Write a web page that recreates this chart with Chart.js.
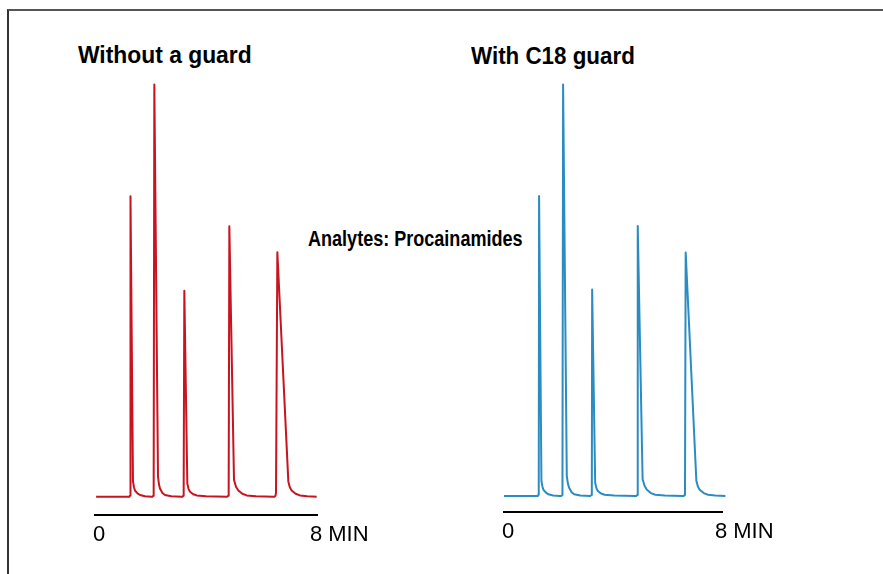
<!DOCTYPE html>
<html>
<head>
<meta charset="utf-8">
<script src="https://cdn.jsdelivr.net/npm/chart.js@4.4.1/dist/chart.umd.min.js"></script>
<style>
  html, body { margin: 0; padding: 0; background: #fff; }
  #page { position: relative; width: 883px; height: 574px; overflow: hidden; }
  #frame { position: absolute; left: 7px; top: 9px; right: 0; bottom: -4px;
           border-top: 2px solid #555; border-left: 2px solid #333; }
  canvas { position: absolute; }
  .txt { position: absolute; white-space: nowrap; font-family: "Liberation Sans", Arial, sans-serif;
         font-weight: bold; color: #000; transform-origin: left top; line-height: 1; }
</style>
</head>
<body>
<div id="page">
  <div id="frame"></div>
  <div class="txt" id="titleLeft"></div>
  <div class="txt" id="titleRight"></div>
  <div class="txt" id="note"></div>
  <canvas id="chartLeft" width="292" height="496" style="left:85px; top:54px;"></canvas>
  <canvas id="chartRight" width="288" height="493" style="left:494px; top:54px;"></canvas>
</div>
<script>
// texts
const leftTitle = 'Without a guard';
const rightTitle = 'With C18 guard';
const noteText = 'Analytes: Procainamides';

// x axis ticks (minutes)
const axisTickValues = [0, 8];
const axisTickLabels = ['0', '8 MIN'];

// without guard: time (min) and relative signal
const leftTimes = [0.04,
  1.237, 1.262, 1.273, 1.285, 1.369, 1.405, 1.441, 1.53, 1.622, 1.80, 2.042,
  2.078, 2.103, 2.114, 2.138, 2.270, 2.305, 2.342, 2.43, 2.523, 2.75, 3.123,
  3.159, 3.184, 3.195, 3.219, 3.327, 3.37, 3.423, 3.54, 3.664, 4.00, 4.745,
  4.769, 4.800, 4.817, 4.841, 5.009, 5.08, 5.165, 5.31, 5.465, 5.80, 6.426,
  6.474, 6.505, 6.523, 6.571, 6.967, 7.02, 7.087, 7.23, 7.387, 7.65, 7.988];
const leftSignal = [0,
  0, 0.3, 1.2, 72.9, 3.7, 2.3, 1.5, 0.8, 0.4, 0.1, 0,
  0, 0.25, 1.0, 100, 4.9, 3.0, 2.0, 0.9, 0.4, 0.1, 0,
  0, 0.25, 1.0, 50.0, 3.2, 1.9, 1.2, 0.6, 0.3, 0.1, 0,
  0, 0.25, 1.0, 65.6, 4.1, 2.4, 1.5, 0.7, 0.3, 0.1, 0,
  0, 0.25, 1.0, 59.3, 3.7, 2.3, 1.5, 0.7, 0.3, 0.1, 0];

// with C18 guard
const rightTimes = [0,
  1.238, 1.263, 1.275, 1.287, 1.373, 1.41, 1.446, 1.54, 1.630, 1.80, 2.034,
  2.108, 2.133, 2.145, 2.169, 2.304, 2.345, 2.390, 2.48, 2.574, 2.80, 3.162,
  3.186, 3.211, 3.223, 3.235, 3.346, 3.39, 3.444, 3.56, 3.689, 4.05, 4.816,
  4.853, 4.887, 4.902, 4.914, 5.086, 5.16, 5.245, 5.39, 5.551, 5.90, 6.556,
  6.593, 6.627, 6.642, 6.667, 7.059, 7.115, 7.181, 7.33, 7.488, 7.75, 8.125];
const rightSignal = [0,
  0, 0.3, 1.2, 72.9, 3.7, 2.3, 1.5, 0.8, 0.4, 0.1, 0,
  0, 0.25, 1.0, 100, 4.9, 3.0, 2.0, 0.9, 0.4, 0.1, 0,
  0, 0.25, 1.0, 50.2, 3.2, 1.9, 1.2, 0.6, 0.3, 0.1, 0,
  0, 0.25, 1.0, 65.6, 4.1, 2.4, 1.5, 0.7, 0.3, 0.1, 0,
  0, 0.25, 1.0, 59.2, 3.7, 2.3, 1.5, 0.7, 0.3, 0.1, 0];

function placeText(id, text, left, top, size, scaleX) {
  const el = document.getElementById(id);
  el.textContent = text;
  el.style.left = left + 'px';
  el.style.top = top + 'px';
  el.style.fontSize = size + 'px';
  el.style.transform = 'scaleX(' + scaleX + ')';
}
placeText('titleLeft', leftTitle, 78, 43, 24, 0.952);
placeText('titleRight', rightTitle, 471, 44, 24, 0.932);
placeText('note', noteText, 308, 228, 22, 0.82);

// draws "0" and "8 MIN" under the axis line
const minLabels = {
  id: 'minLabels',
  afterDraw(chart) {
    const ctx = chart.ctx;
    const xScale = chart.scales.x;
    const y = chart.chartArea.bottom + 26;
    ctx.save();
    ctx.font = '22px "Liberation Sans", Arial, sans-serif';
    ctx.fillStyle = '#000';
    ctx.textAlign = 'left';
    ctx.textBaseline = 'alphabetic';
    axisTickValues.forEach((v, i) => {
      const px = xScale.getPixelForValue(v);
      const label = axisTickLabels[i];
      const w = ctx.measureText(label.split(' ')[0]).width;
      ctx.fillText(label, px - w / 2 + (i === 0 ? 4 : -1), y);
    });
    ctx.restore();
  }
};

function makeChart(id, times, signal, color, yMin) {
  return new Chart(document.getElementById(id), {
    type: 'line',
    data: {
      datasets: [{
        data: times.map((t, i) => ({ x: t, y: signal[i] })),
        borderColor: color,
        borderWidth: 2,
        borderJoinStyle: 'round',
        pointRadius: 0,
        fill: false,
        tension: 0,
        clip: false
      }]
    },
    options: {
      responsive: false,
      animation: false,
      layout: { autoPadding: false, padding: { left: 10, right: 60, top: 10, bottom: 35 } },
      plugins: { legend: { display: false }, tooltip: { enabled: false } },
      scales: {
        x: {
          type: 'linear', min: 0, max: 8,
          grid: { display: false, drawTicks: false },
          ticks: { display: false },
          border: { display: true, color: '#000', width: 2 }
        },
        y: { display: false, min: yMin, max: 105 }
      }
    },
    plugins: [minLabels]
  });
}

makeChart('chartLeft', leftTimes, leftSignal, 'rgb(200,20,32)', -4.45);
makeChart('chartRight', rightTimes, rightSignal, 'rgb(42,140,192)', -3.9);
</script>
</body>
</html>
